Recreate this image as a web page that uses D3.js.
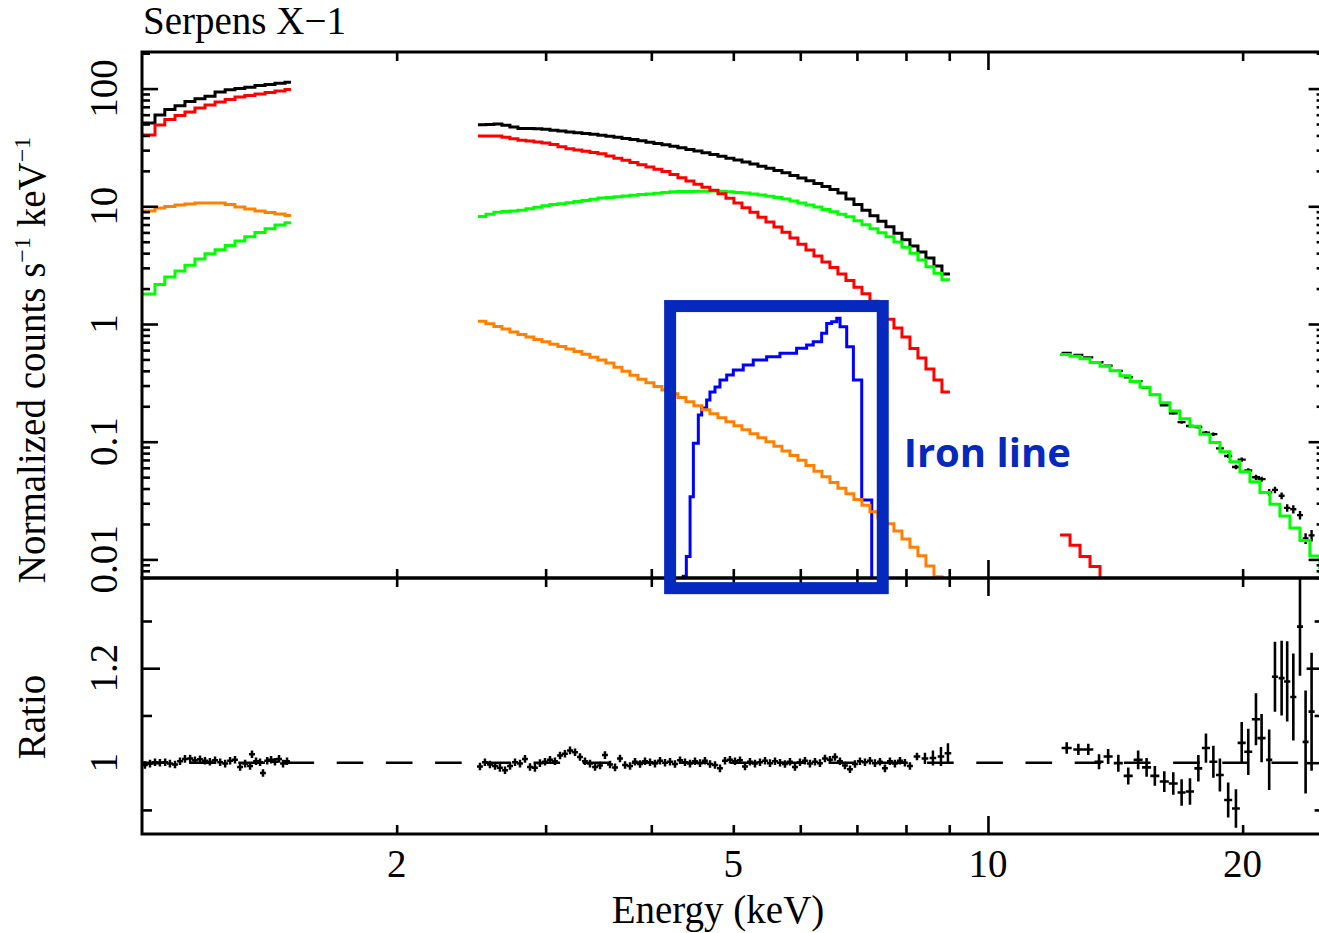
<!DOCTYPE html>
<html>
<head>
<meta charset="utf-8">
<title>Serpens X-1</title>
<script src="https://cdn.jsdelivr.net/npm/d3@7"></script>
<style>
  body { margin: 0; background: #fff; }
  svg { display: block; }
</style>
</head>
<body>
<div id="my_dataviz"></div>
<script>
// ---- soft band: bin edges (keV) and normalized counts s^-1 keV^-1 per bin ----
const edgesA  = [1.0, 1.036, 1.064, 1.094, 1.124, 1.155, 1.187, 1.22, 1.254, 1.288, 1.323, 1.36, 1.398, 1.436, 1.476, 1.5];
const blackA  = [51.0, 59.7, 66.4, 71.6, 77.8, 81.9, 86.0, 93.6, 97.9, 100.4, 102.6, 106.3, 108.6, 111.1, 113.1];
const redA    = [40.4, 49.1, 54.6, 59.1, 63.3, 68.4, 72.6, 76.9, 80.8, 84.9, 87.4, 90.0, 92.7, 95.4, 98.3];
const orangeA = [9.12, 9.67, 9.96, 10.26, 10.46, 10.67, 10.67, 10.67, 10.36, 9.86, 9.49, 9.12, 8.86, 8.60, 8.35];
const greenA  = [1.80, 2.17, 2.51, 2.82, 3.16, 3.57, 3.95, 4.27, 4.64, 5.07, 5.51, 5.99, 6.45, 6.94, 7.26];

// ---- middle band ----
const edgesB  = [2.4952, 2.5501, 2.6063, 2.6636, 2.7222, 2.7822, 2.8434, 2.9060, 2.9700, 3.0354,
                 3.1022, 3.1705, 3.2403, 3.3116, 3.3845, 3.4590, 3.5352, 3.6130, 3.6925, 3.7738,
                 3.8569, 3.9418, 4.0286, 4.1173, 4.2079, 4.3006, 4.3952, 4.4920, 4.5909, 4.6919,
                 4.7952, 4.9008, 5.0087, 5.1190, 5.2317, 5.3468, 5.4645, 5.5848, 5.7078, 5.8334,
                 5.9619, 6.0931, 6.2272, 6.3643, 6.5044, 6.6476, 6.7940, 6.9435, 7.0964, 7.2526,
                 7.4123, 7.5755, 7.7423, 7.9127, 8.0869, 8.2650, 8.4469, 8.6329, 8.8230, 9.0172];
const blackB  = [49.26, 49.55, 49.94, 48.78, 47.18, 45.91, 45.73, 45.56, 45.11, 44.33,
                 43.56, 42.80, 42.14, 41.48, 40.84, 40.12, 39.27, 38.51, 37.69, 36.89,
                 36.03, 35.06, 34.18, 33.32, 32.42, 31.48, 30.45, 29.44, 28.54, 27.61,
                 26.65, 25.63, 24.70, 23.79, 22.83, 21.91, 21.03, 20.18, 19.30, 18.30,
                 17.39, 16.50, 15.65, 14.76, 13.92, 12.95, 11.56, 10.34, 9.27, 8.32,
                 7.47, 6.71, 5.91, 5.20, 4.60, 4.09, 3.64, 3.11, 2.66];
const redB    = [39.57, 39.57, 39.57, 38.65, 37.46, 36.45, 35.81, 35.18, 34.57, 33.50,
                 32.03, 30.80, 30.09, 29.39, 28.71, 27.93, 26.76, 25.63, 24.60, 23.56,
                 22.57, 21.57, 20.66, 19.80, 18.63, 17.50, 16.41, 15.41, 14.50, 13.68,
                 12.80, 11.69, 10.67, 9.73, 8.88, 8.06, 7.34, 6.67, 6.03, 5.37,
                 4.77, 4.25, 3.78, 3.37, 3.02, 2.66, 2.34, 2.05, 1.81, 1.56,
                 1.31, 1.10, 0.925, 0.777, 0.620, 0.514, 0.415, 0.334, 0.264];
const greenB  = [8.18, 8.54, 8.91, 9.05, 9.12, 9.25, 9.52, 9.81, 10.10, 10.34,
                 10.50, 10.71, 10.96, 11.22, 11.49, 11.74, 11.90, 12.07, 12.23, 12.40,
                 12.57, 12.75, 12.90, 13.08, 13.26, 13.34, 13.36, 13.39, 13.44, 13.47,
                 13.41, 13.26, 13.10, 12.97, 12.75, 12.45, 12.16, 11.88, 11.53, 11.09,
                 10.67, 10.26, 9.86, 9.41, 8.97, 8.55, 8.16, 7.55, 6.98, 6.45,
                 5.97, 5.52, 4.97, 4.48, 3.99, 3.50, 3.07, 2.70, 2.38];
const orangeB = [1.054, 1.004, 0.954, 0.905, 0.857, 0.813, 0.775, 0.740, 0.706, 0.674,
                 0.643, 0.613, 0.585, 0.554, 0.523, 0.494, 0.466, 0.430, 0.397, 0.367,
                 0.340, 0.3165, 0.295, 0.275, 0.256, 0.237, 0.2187, 0.2022, 0.1866, 0.1726,
                 0.1596, 0.1479, 0.1368, 0.1265, 0.1169, 0.1079, 0.0998, 0.0916, 0.0835, 0.0762,
                 0.0694, 0.0629, 0.0562, 0.0503, 0.0451, 0.0403, 0.0361, 0.0323, 0.0288, 0.0254,
                 0.0226, 0.0201, 0.0174, 0.0149, 0.01267, 0.01075, 0.00879, 0.00713, 0.00583];

// broad iron line component
const ironEdges = [4.345, 4.40, 4.445, 4.485, 4.546, 4.588, 4.65, 4.692, 4.757, 4.822, 4.911, 5.0, 5.137, 5.279,
                   5.475, 5.677, 5.94, 6.104, 6.215, 6.359, 6.447, 6.535, 6.626, 6.686, 6.808, 6.933, 7.092, 7.288];
const ironLine  = [0.0072, 0.0106, 0.0341, 0.0969, 0.169, 0.193, 0.226, 0.264, 0.292, 0.334, 0.369, 0.407, 0.449,
                   0.494, 0.527, 0.564, 0.622, 0.664, 0.708, 0.834, 1.01, 1.046, 1.118, 0.948, 0.641, 0.334, 0.032];

// ---- hard band ----
const edgesC = [12.167, 12.503, 12.848, 13.202, 13.566, 13.94, 14.325, 14.72, 15.126, 15.543, 15.971, 16.412, 16.864,
                17.329, 17.807, 18.298, 18.803, 19.321, 19.854, 20.402, 20.964, 21.544, 22.137, 22.748, 23.375,
                24.02, 24.682, 25.363];
const greenC = [0.550, 0.531, 0.507, 0.472, 0.437, 0.400, 0.363, 0.325, 0.290, 0.250, 0.214, 0.182, 0.1565, 0.1351,
                0.1158, 0.0985, 0.0822, 0.0676, 0.0556, 0.0457, 0.0370, 0.0294, 0.0234, 0.0185, 0.01447, 0.01071,
                0.00782];
const redC   = [0.0161, 0.0132, 0.0106, 0.0087, 0.0068, 0.0053];

// hard band data points: energy, half bin width, counts
const dataC_E  = [12.39, 12.79, 13.14, 13.53, 13.87, 14.26, 14.65, 15.05, 15.40, 15.75, 16.16, 16.56, 16.94, 17.33,
                  17.73, 18.10, 18.47, 18.80, 19.23, 19.64, 19.95, 20.31, 20.74, 21.06, 21.50, 21.84, 22.24, 22.58,
                  22.96, 23.38, 23.74, 24.13];
const dataC_dE = [0.17, 0.175, 0.18, 0.166, 0.171, 0.175, 0.18, 0.185, 0.19, 0.194, 0.2, 0.2, 0.185, 0.19, 0.19,
                  0.2, 0.2, 0.2, 0.21, 0.21, 0.22, 0.22, 0.23, 0.23, 0.18, 0.18, 0.18, 0.19, 0.19, 0.19, 0.19, 0.2];
const dataC_V  = [0.567, 0.546, 0.521, 0.473, 0.443, 0.400, 0.353, 0.327, 0.287, 0.250, 0.204, 0.174, 0.1466,
                  0.136, 0.1335, 0.1194, 0.1160, 0.0877, 0.0757, 0.0610, 0.0704, 0.0569, 0.0499, 0.0481, 0.0372,
                  0.039, 0.0347, 0.0274, 0.0267, 0.0238, 0.0151, 0.0160];

// ---- data / model ratio ----
const ratioA_E = [1.008, 1.022, 1.036, 1.050, 1.065, 1.079, 1.094, 1.109, 1.124, 1.140, 1.155, 1.171, 1.187, 1.203,
                  1.220, 1.237, 1.254, 1.271, 1.288, 1.306, 1.324, 1.342, 1.349, 1.364, 1.379, 1.390, 1.406, 1.421,
                  1.436, 1.452, 1.468, 1.484];
const ratioA_R = [0.995, 0.998, 1.001, 1.000, 1.001, 0.998, 0.996, 1.003, 1.008, 1.009, 1.005, 1.007, 1.004, 1.002,
                  1.005, 1.001, 0.998, 1.004, 1.006, 0.991, 0.998, 0.993, 1.018, 1.003, 1.001, 0.978, 1.004, 1.006,
                  1.002, 1.008, 0.998, 1.003];

const ratioB_E = [2.509, 2.543, 2.578, 2.614, 2.649, 2.686, 2.723, 2.760, 2.798, 2.836, 2.875, 2.914, 2.954, 2.995,
                  3.036, 3.077, 3.120, 3.162, 3.206, 3.250, 3.294, 3.339, 3.385, 3.432, 3.479, 3.526, 3.575, 3.624,
                  3.673, 3.724, 3.775, 3.826, 3.879, 3.932, 3.986, 4.040, 4.096, 4.152, 4.209, 4.266, 4.325, 4.384,
                  4.444, 4.505, 4.567, 4.629, 4.693, 4.757, 4.822, 4.888, 4.955, 5.023, 5.092, 5.162, 5.232, 5.304,
                  5.377, 5.451, 5.525, 5.601, 5.678, 5.755, 5.834, 5.914, 5.995, 6.077, 6.160, 6.245, 6.330, 6.417,
                  6.505, 6.594, 6.684, 6.776, 6.869, 6.963, 7.058, 7.155, 7.253, 7.352, 7.453, 7.555, 7.658, 7.763,
                  7.870, 7.977, 8.087];
const ratioB_R = [0.992, 1.001, 0.996, 0.993, 0.989, 0.984, 0.993, 1.001, 0.998, 1.008, 0.991, 0.989, 0.999, 1.002,
                  1.006, 1.003, 1.015, 1.019, 1.026, 1.022, 1.012, 1.003, 0.998, 0.991, 0.994, 1.016, 0.996, 0.990,
                  1.009, 0.995, 0.993, 1.002, 0.997, 1.003, 1.001, 0.998, 1.004, 1.000, 1.002, 0.997, 1.005, 1.001,
                  0.998, 1.003, 0.999, 1.004, 0.997, 0.995, 0.988, 1.004, 1.006, 1.003, 1.005, 0.992, 1.002, 0.998,
                  1.001, 1.004, 0.999, 1.003, 1.000, 0.997, 1.002, 0.991, 1.001, 1.004, 0.998, 1.002, 0.999, 1.009,
                  1.006, 1.012, 1.003, 0.994, 0.986, 0.997, 1.003, 1.001, 1.004, 0.999, 1.002, 0.988, 1.003, 0.998,
                  1.004, 1.000, 0.993];
// fine-binned points share one error size
const fineErr = 0.008;
const fineHalfBin = 0.008;   // fraction of energy

// last few wider bins of the middle band
const ratioT_E  = [8.243, 8.424, 8.609, 8.799, 8.968];
const ratioT_R  = [1.013, 1.009, 1.010, 1.013, 1.020];
const ratioT_dR = [0.008, 0.012, 0.016, 0.020, 0.021];

const ratioC_R  = [1.031, 1.028, 1.028, 1.002, 1.013, 0.999, 0.972, 1.006, 0.990, 0.972, 0.960, 0.956, 0.937,
                   0.939, 0.988, 1.031, 1.002, 0.974, 0.921, 0.903, 1.042, 1.023, 1.092, 1.052, 1.006, 1.182,
                   1.179, 1.172, 1.139, 1.288, 1.044, 1.108];
const ratioC_dR = [0.012, 0.012, 0.012, 0.016, 0.016, 0.018, 0.018, 0.02, 0.02, 0.021, 0.022, 0.024, 0.028, 0.028,
                   0.028, 0.031, 0.034, 0.035, 0.037, 0.041, 0.044, 0.049, 0.055, 0.051, 0.064, 0.074, 0.079, 0.085,
                   0.092, 0.104, 0.109, 0.125];

// axis ticks
const xMajor = [10];
const xMinor = [2, 3, 4, 5, 6, 7, 8, 9, 20];
const xLabels = [2, 5, 10, 20];
const yTopLabels = [0.01, 0.1, 1, 10, 100];
const yRatMajor = [1, 1.2];
const yRatMinor = [0.9, 1.1, 1.3];

// ---------------------------------------------------------------------------

const width = 1319, height = 933;
const svg = d3.select("#my_dataviz")
  .append("svg")
    .attr("width", width)
    .attr("height", height);

const x = d3.scaleLog().domain([1, 25]).range([142, 1324.6]);
const yTop = d3.scaleLog().domain([0.00695, 204.6]).range([578, 52]);
const yRat = d3.scaleLinear().domain([0.849, 1.391]).range([834, 578]);

const left = x.range()[0], right = x.range()[1];
const topY = yTop.range()[1], midY = yTop.range()[0], botY = yRat.range()[0];

const defs = svg.append("defs");
defs.append("clipPath").attr("id", "clipTop")
  .append("rect").attr("x", left).attr("y", topY).attr("width", right - left).attr("height", midY - topY);
defs.append("clipPath").attr("id", "clipBot")
  .append("rect").attr("x", left).attr("y", midY).attr("width", right - left).attr("height", botY - midY);

const serif = "'Liberation Serif', 'Times New Roman', serif";

// histogram as a step line
function steps(edges, vals) {
  const pts = vals.map((v, i) => [edges[i], v]);
  pts.push([edges[edges.length - 1], vals[vals.length - 1]]);
  return pts;
}
const stepLine = d3.line()
  .x(d => x(d[0]))
  .y(d => yTop(d[1]))
  .curve(d3.curveStepAfter);

const gTop = svg.append("g").attr("clip-path", "url(#clipTop)");

function drawStep(edges, vals, color, extra) {
  const pts = steps(edges, vals);
  if (extra) pts.push(extra);
  gTop.append("path")
    .attr("d", stepLine(pts))
    .attr("fill", "none")
    .attr("stroke", color)
    .attr("stroke-width", 3)
    .attr("stroke-linejoin", "miter");
}

// crosses: horizontal bin width + vertical error
function crosses(g, E, dE, V, dVlo, dVhi, ys, w) {
  const d = E.map((e, i) =>
    `M${x(e - dE[i])},${ys(V[i])}H${x(e + dE[i])}` +
    `M${x(e)},${ys(V[i] - dVlo[i])}V${ys(V[i] + dVhi[i])}`).join("");
  g.append("path").attr("d", d)
    .attr("fill", "none").attr("stroke", "#000").attr("stroke-width", w);
}

// data in the hard band (error size taken from the ratio errors)
const relErr = ratioC_dR.map((e, i) => e / ratioC_R[i]);
crosses(gTop, dataC_E, dataC_dE, dataC_V,
  dataC_V.map((v, i) => v * relErr[i]), dataC_V.map((v, i) => v * relErr[i]), yTop, 2.4);

drawStep(edgesA, blackA, "#000");
drawStep(edgesB, blackB, "#000");
drawStep(edgesA, greenA, "#00ff00");
drawStep(edgesB, greenB, "#00ff00");
drawStep(edgesC, greenC, "#00ff00");
drawStep(edgesA, redA, "#ff0000");
drawStep(edgesB, redB, "#ff0000");
drawStep(edgesC.slice(0, redC.length + 1), redC, "#ff0000");
drawStep(ironEdges, ironLine, "#0000ff", [ironEdges[ironEdges.length - 1], yTop.domain()[0] / 2]);
drawStep(edgesA, orangeA, "#ff8000");
drawStep(edgesB, orangeB, "#ff8000");

// ratio panel
const gBot = svg.append("g").attr("clip-path", "url(#clipBot)");
gBot.append("line")
  .attr("x1", left).attr("x2", right)
  .attr("y1", yRat(1)).attr("y2", yRat(1))
  .attr("stroke", "#000").attr("stroke-width", 2.5)
  .attr("stroke-dasharray", "26.6,22.6")
  .attr("stroke-dashoffset", 2.1);

const fineDE = E => E.map(e => e * fineHalfBin);
const fineDR = E => E.map(() => fineErr);
crosses(gBot, ratioA_E, fineDE(ratioA_E), ratioA_R, fineDR(ratioA_E), fineDR(ratioA_E), yRat, 2.5);
crosses(gBot, ratioB_E, fineDE(ratioB_E), ratioB_R, fineDR(ratioB_E), fineDR(ratioB_E), yRat, 2.5);
crosses(gBot, ratioT_E, ratioT_E.map(e => e * 0.009), ratioT_R, ratioT_dR, ratioT_dR, yRat, 2.5);
crosses(gBot, dataC_E, dataC_dE, ratioC_R, ratioC_dR, ratioC_dR, yRat, 2.6);

// frames
[[topY, midY], [midY, botY]].forEach(([a, b]) => {
  svg.append("rect")
    .attr("x", left).attr("y", a)
    .attr("width", right - left).attr("height", b - a)
    .attr("fill", "none").attr("stroke", "#000").attr("stroke-width", 3);
});

// ticks (all pointing into the panels)
function ticks(axis, tx, ty, vals, len) {
  svg.append("g")
    .attr("transform", `translate(${tx},${ty})`)
    .call(axis.tickValues(vals).tickSize(-len).tickFormat(""))
    .call(g => g.select(".domain").remove())
    .selectAll("line").attr("stroke", "#000").attr("stroke-width", 2.6);
}
const isDecade = t => Math.abs(Math.log10(t) - Math.round(Math.log10(t))) < 1e-6;
const yTopMinor = yTop.ticks().filter(t => !isDecade(t));
const yTopMajor = yTop.ticks().filter(isDecade);

ticks(d3.axisLeft(yTop), left, 0, yTopMajor, 16);
ticks(d3.axisLeft(yTop), left, 0, yTopMinor, 8);
ticks(d3.axisRight(yTop), right, 0, yTopMajor, 16);
ticks(d3.axisRight(yTop), right, 0, yTopMinor, 8);
ticks(d3.axisLeft(yRat), left, 0, yRatMajor, 18);
ticks(d3.axisLeft(yRat), left, 0, yRatMinor, 10);
ticks(d3.axisRight(yRat), right, 0, yRatMajor, 18);
ticks(d3.axisRight(yRat), right, 0, yRatMinor, 10);

ticks(d3.axisTop(x), 0, topY, xMajor, 18);
ticks(d3.axisTop(x), 0, topY, xMinor, 9);
ticks(d3.axisBottom(x), 0, midY, xMajor, 18);
ticks(d3.axisBottom(x), 0, midY, xMinor, 9);
ticks(d3.axisTop(x), 0, midY, xMajor, 18);
ticks(d3.axisTop(x), 0, midY, xMinor, 9);
ticks(d3.axisBottom(x), 0, botY, xMajor, 18);
ticks(d3.axisBottom(x), 0, botY, xMinor, 9);

// tick labels
svg.append("g").selectAll("text")
  .data(xLabels)
  .join("text")
    .attr("x", d => x(d))
    .attr("y", 877)
    .attr("text-anchor", "middle")
    .style("font", `39px ${serif}`)
    .text(d => d);

const rotLabel = (vals, ys) => svg.append("g").selectAll("text")
  .data(vals)
  .join("text")
    .attr("transform", d => `translate(117,${ys(d)}) rotate(-90)`)
    .attr("text-anchor", "middle")
    .style("font", `39px ${serif}`)
    .text(d => d);
rotLabel(yTopLabels, yTop);
rotLabel(yRatMajor, yRat);

// titles
svg.append("text")
  .attr("x", 143).attr("y", 34)
  .style("font", `39px ${serif}`)
  .text("Serpens X\u22121");

svg.append("text")
  .attr("x", 718).attr("y", 923)
  .attr("text-anchor", "middle")
  .style("font", `39px ${serif}`)
  .text("Energy (keV)");

const yLab = svg.append("text")
  .attr("transform", "translate(45,360) rotate(-90)")
  .attr("text-anchor", "middle")
  .style("font", `39px ${serif}`);
yLab.append("tspan").text("Normalized counts s");
yLab.append("tspan").attr("dy", -15).style("font-size", "24px").text("\u22121");
yLab.append("tspan").attr("dy", 15).text(" keV");
yLab.append("tspan").attr("dy", -15).style("font-size", "24px").text("\u22121");

svg.append("text")
  .attr("transform", "translate(45,717) rotate(-90)")
  .attr("text-anchor", "middle")
  .style("font", `39px ${serif}`)
  .text("Ratio");

// iron line highlight
const boxE = [4.21, 7.51], boxV = [1.42, 0.0057];
svg.append("rect")
  .attr("x", x(boxE[0])).attr("y", yTop(boxV[0]))
  .attr("width", x(boxE[1]) - x(boxE[0]))
  .attr("height", yTop(boxV[1]) - yTop(boxV[0]))
  .attr("fill", "none")
  .attr("stroke", "#0528bd")
  .attr("stroke-width", 12);

svg.append("text")
  .attr("x", x(7.95)).attr("y", yTop(0.061))
  .style("font", "bold 40px 'Open Sans', Lato, sans-serif")
  .attr("fill", "#0528bd")
  .text("Iron line");
</script>
</body>
</html>
